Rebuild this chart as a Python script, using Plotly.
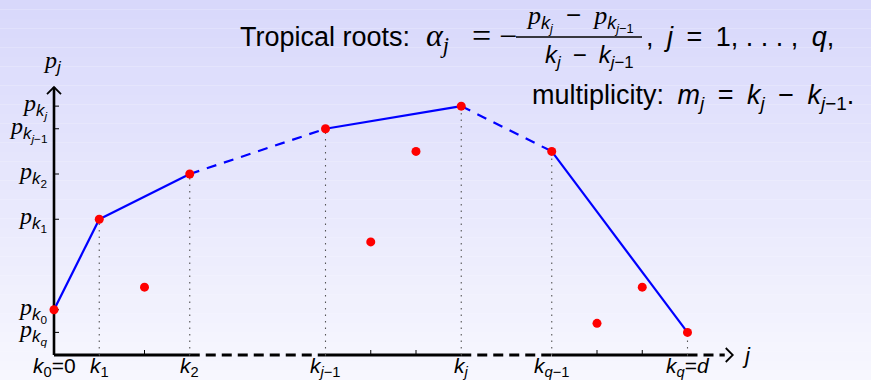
import plotly.graph_objects as go

# ---------------- data ----------------
k_vals = [0, 1, 2, 3, 6, 7, 8, 9, 11, 12, 13, 14]
p_vals = [1.0, 3.0, 1.5, 4.0, 5.0, 2.5, 4.5, 5.5, 4.5, 0.7, 1.5, 0.5]

hull_k = [0, 1, 3, 6, 9, 11, 14]
hull_p = [1.0, 3.0, 4.0, 5.0, 5.5, 4.5, 0.5]
hull_dashed = [False, False, True, False, True, False]   # segment i: hull[i] -> hull[i+1]

minor_k = [2, 7, 8, 12, 13]

x_tick_labels = ["<i>k</i><sub>0</sub>=0", "<i>k</i><sub>1</sub>", "<i>k</i><sub>2</sub>",
                 "<i>k</i><sub><i>j</i>−1</sub>", "<i>k</i><sub><i>j</i></sub>",
                 "<i>k</i><sub><i>q</i>−1</sub>", "<i>k</i><sub><i>q</i></sub>=<i>d</i>"]

SERIF = "Liberation Serif"
SANS = "Liberation Sans"
EN = "\u2002"


def pk(sub):
    return (f'<span style="font-family:{SERIF}"><i>p</i></span>'
            f'<sub><i>k</i><sub>{sub}</sub></sub>')


y_tick_pos = [hull_p[0], hull_p[1], hull_p[2], hull_p[3], hull_p[4], hull_p[6]]
y_tick_labels = [pk("0"), pk("1"), pk("2"), pk("<i>j</i>−1"), pk("<i>j</i>"), pk("<i>q</i>")]

# ---------------- geometry (pixel frame) ----------------
W, H = 871, 380
PX = 45.25          # pixels per data unit
OX, OY = 54, 355    # pixel position of data origin
x_end = 15.0        # x-axis arrow tip (data)
y_end = 5.92        # y-axis arrow tip (data)


def dx(px):  # pixel length -> data length
    return px / PX


def fx(px):  # pixel x -> paper
    return px / W


def fy(py):  # pixel y -> paper
    return 1 - py / H


fig = go.Figure()

# background gradient
shapes = []
n = 40
top = (216, 216, 251)
bot = (247, 247, 254)
for i in range(n):
    t = i / (n - 1)
    c = tuple(round(top[j] + (bot[j] - top[j]) * t) for j in range(3))
    shapes.append(dict(type="rect", xref="paper", yref="paper", layer="below",
                       x0=0, x1=1, y0=1 - (i + 1) / n, y1=1 - i / n,
                       fillcolor=f"rgb{c}", line=dict(width=0)))

# ---------------- axes ----------------
solid_x, dash_x = [], []
for i in range(len(hull_k) - 1):
    seg = dash_x if hull_dashed[i] else solid_x
    seg += [hull_k[i], hull_k[i + 1], None]
dash_x += [hull_k[-1], x_end - dx(8), None]

fig.add_trace(go.Scatter(x=solid_x, y=[0 if v is not None else None for v in solid_x],
                         mode="lines", line=dict(color="black", width=3),
                         hoverinfo="skip", showlegend=False))
fig.add_trace(go.Scatter(x=dash_x, y=[0 if v is not None else None for v in dash_x],
                         mode="lines", line=dict(color="black", width=3, dash="10px,6px"),
                         hoverinfo="skip", showlegend=False))
# y axis
fig.add_trace(go.Scatter(x=[0, 0], y=[0, y_end], mode="lines",
                         line=dict(color="black", width=2.6),
                         hoverinfo="skip", showlegend=False))

# arrow heads
ah = dx(7)
fig.add_trace(go.Scatter(x=[x_end - ah, x_end, x_end - ah], y=[ah, 0, -ah], mode="lines",
                         line=dict(color="black", width=1.8), hoverinfo="skip", showlegend=False))
fig.add_trace(go.Scatter(x=[-ah, 0, ah], y=[y_end - ah, y_end, y_end - ah], mode="lines",
                         line=dict(color="black", width=1.8), hoverinfo="skip", showlegend=False))

# minor ticks on x axis
mx, my = [], []
for kk in minor_k:
    mx += [kk, kk, None]
    my += [0, dx(5), None]
fig.add_trace(go.Scatter(x=mx, y=my, mode="lines", line=dict(color="black", width=1),
                         hoverinfo="skip", showlegend=False))
# ticks on y axis
tx, ty = [], []
for pp in y_tick_pos:
    tx += [0, dx(5), None]
    ty += [pp, pp, None]
fig.add_trace(go.Scatter(x=tx, y=ty, mode="lines", line=dict(color="black", width=1),
                         hoverinfo="skip", showlegend=False))

# dotted verticals
vx, vy = [], []
for kk, pp in zip(hull_k[1:], hull_p[1:]):
    vx += [kk, kk, None]
    vy += [0, pp, None]
fig.add_trace(go.Scatter(x=vx, y=vy, mode="lines",
                         line=dict(color="#555555", width=1.1, dash="1.5px,5px"),
                         hoverinfo="skip", showlegend=False))

# ---------------- hull ----------------
for i in range(len(hull_k) - 1):
    fig.add_trace(go.Scatter(x=[hull_k[i], hull_k[i + 1]], y=[hull_p[i], hull_p[i + 1]],
                             mode="lines",
                             line=dict(color="#0000ff", width=2.2,
                                       dash="10px,8px" if hull_dashed[i] else "solid"),
                             hoverinfo="skip", showlegend=False))

# points
fig.add_trace(go.Scatter(x=k_vals, y=p_vals, mode="markers",
                         marker=dict(color="#ff0000", size=9, line=dict(width=0)),
                         hoverinfo="skip", showlegend=False))

# ---------------- labels ----------------
ann = []
for kk, lab in zip(hull_k, x_tick_labels):
    ann.append(dict(x=kk, y=-dx(12), xref="x", yref="y", text=lab, showarrow=False,
                    xanchor="center", yanchor="middle",
                    font=dict(family=SANS, size=21, color="black")))
for pp, lab in zip(y_tick_pos, y_tick_labels):
    ann.append(dict(x=-dx(5), y=pp, xref="x", yref="y", text=lab, showarrow=False,
                    xanchor="right", yanchor="middle",
                    font=dict(family=SANS, size=24, color="black")))
ann.append(dict(x=-dx(2), y=y_end + dx(25), xref="x", yref="y",
                text=f'<span style="font-family:{SERIF}"><i>p</i></span><sub><i>j</i></sub>',
                showarrow=False, xanchor="center", yanchor="middle",
                font=dict(family=SANS, size=24, color="black")))
ann.append(dict(x=x_end + dx(14), y=0, xref="x", yref="y", text="<i>j</i>",
                showarrow=False, xanchor="center", yanchor="middle",
                font=dict(family=SANS, size=22, color="black")))

# title formula
def T(px, py, text, size=27, anchor="left", family=SANS):
    ann.append(dict(x=fx(px), y=fy(py), xref="paper", yref="paper", text=text,
                    showarrow=False, xanchor=anchor, yanchor="middle",
                    font=dict(family=family, size=size, color="black")))


T(238, 37, "Tropical roots:")
T(424, 38, "<i>α</i><sub><i>j</i></sub>", size=32, family=SERIF)
T(481, 36, "=", size=34, anchor="center", family=SERIF)
T(508, 36, "−", size=32, anchor="center", family=SERIF)
T(580, 18, pk("<i>j</i>") + EN + "−" + EN + pk("<i>j</i>−1"), size=26, anchor="center")
T(589, 56, "<i>k</i><sub><i>j</i></sub>" + EN + "−" + EN + "<i>k</i><sub><i>j</i>−1</sub>",
  size=24, anchor="center")
T(644, 37, "," + EN + "<i>j</i>" + EN + "=" + EN + "1, . . . ," + EN + "<i>q</i>,")
T(530, 97, "multiplicity:" + EN + "<i>m</i><sub><i>j</i></sub>" + EN + "=" + EN +
  "<i>k</i><sub><i>j</i></sub>" + EN + "−" + EN + "<i>k</i><sub><i>j</i>−1</sub>.")

shapes.append(dict(type="line", xref="paper", yref="paper", x0=fx(516), x1=fx(642),
                   y0=fy(37), y1=fy(37), line=dict(color="black", width=1.3)))

fig.update_layout(
    width=W, height=H, margin=dict(l=0, r=0, t=0, b=0),
    paper_bgcolor="rgb(247,247,254)", plot_bgcolor="rgba(0,0,0,0)",
    xaxis=dict(range=[-OX / PX, (W - OX) / PX], visible=False, fixedrange=True),
    yaxis=dict(range=[-(H - OY) / PX, OY / PX], visible=False, fixedrange=True),
    shapes=shapes, annotations=ann, showlegend=False, hovermode=False,
)

fig.write_html("out.html", config={"displayModeBar": False},
               post_script="document.body.style.margin='0';document.body.style.overflow='hidden';")
